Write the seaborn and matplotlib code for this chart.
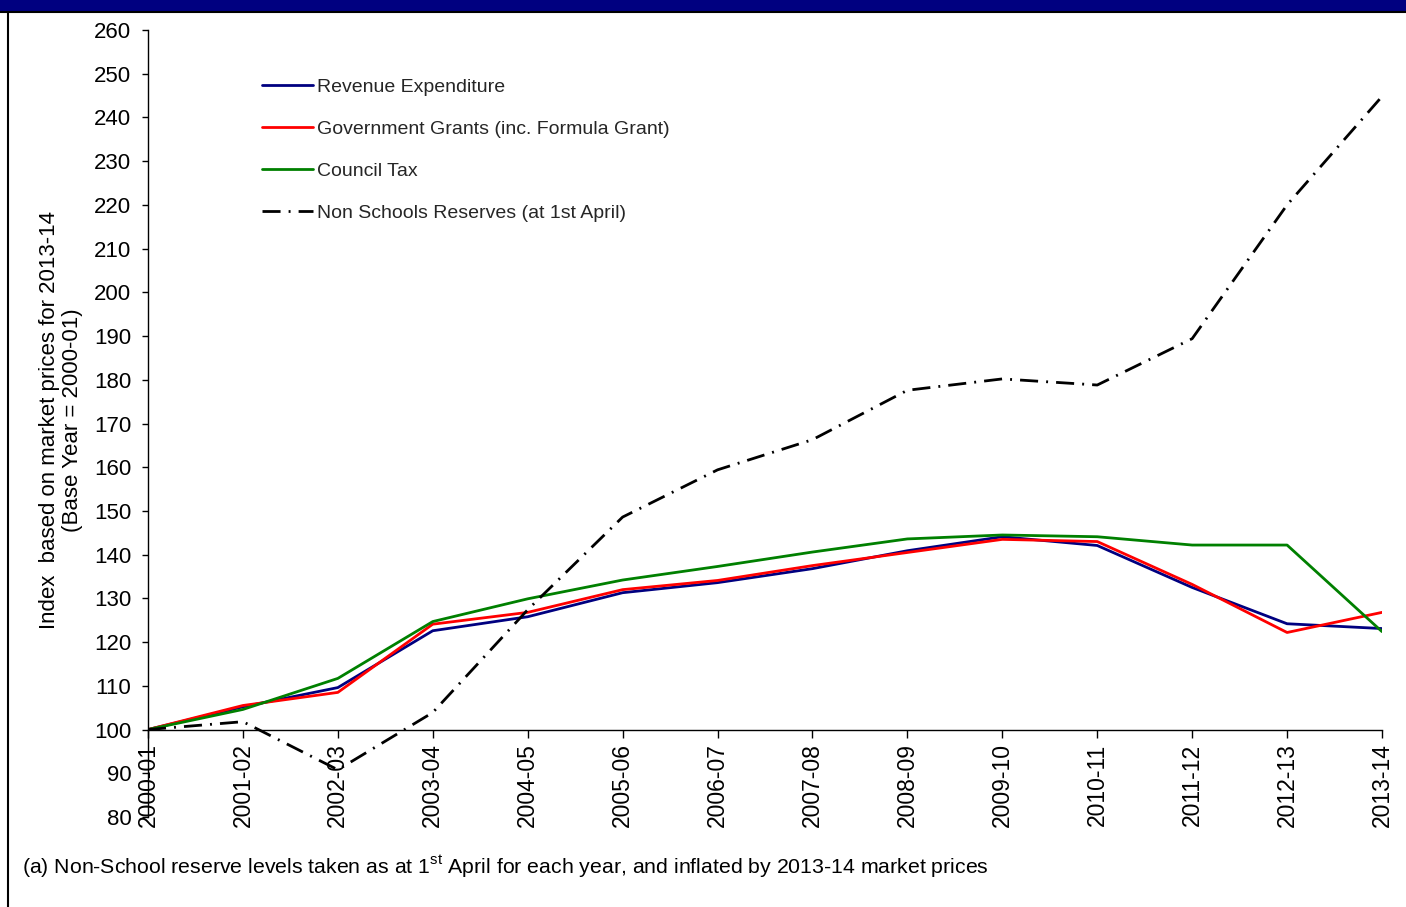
import matplotlib
matplotlib.use("Agg")
import matplotlib.pyplot as plt
from matplotlib.patches import Rectangle
from matplotlib.lines import Line2D
import seaborn as sns
import pandas as pd

years = ["2000-01", "2001-02", "2002-03", "2003-04", "2004-05", "2005-06", "2006-07",
         "2007-08", "2008-09", "2009-10", "2010-11", "2011-12", "2012-13", "2013-14"]

revenue_expenditure = [100.0, 105.2, 109.6, 122.6, 125.8, 131.3, 133.6,
                       136.8, 140.9, 144.1, 142.1, 132.5, 124.2, 123.1]
government_grants = [100.0, 105.5, 108.5, 124.1, 126.8, 132.0, 134.1,
                     137.5, 140.5, 143.5, 143.0, 133.2, 122.2, 126.8]
council_tax = [100.0, 104.6, 111.7, 124.7, 129.9, 134.2, 137.3,
               140.6, 143.6, 144.5, 144.1, 142.2, 142.2, 122.4]
non_school_reserves = [100.0, 101.8, 90.8, 103.9, 127.4, 148.6, 159.4,
                       166.3, 177.6, 180.2, 178.8, 189.4, 220.0, 244.8]

series_names = ["Revenue Expenditure",
                "Government Grants (inc. Formula Grant)",
                "Council Tax",
                "Non Schools Reserves (at 1st April)"]
series_values = [revenue_expenditure, government_grants, council_tax, non_school_reserves]
series_colors = ["#000080", "#FF0000", "#008000", "#000000"]

rows = []
for name, vals in zip(series_names, series_values):
    for i, (yr, v) in enumerate(zip(years, vals)):
        rows.append({"pos": i, "year": yr, "series": name, "index": v})
df = pd.DataFrame(rows)

sns.set_theme(style="white")
plt.rcParams["font.family"] = ["Liberation Sans", "DejaVu Sans"]
plt.rcParams["mathtext.fontset"] = "custom"
plt.rcParams["mathtext.rm"] = "Liberation Sans"

W, H = 1406, 907
fig = plt.figure(figsize=(W / 100, H / 100), dpi=100)
fig.patch.set_facecolor("white")
ax = fig.add_axes([148 / W, 1 - 817 / H, (1382 - 148) / W, (817 - 30) / H])
ax.set_facecolor("white")

dash_dot = (6.5, 2.9, 0.7, 2.9)
dashes = {series_names[0]: "", series_names[1]: "", series_names[2]: "",
          series_names[3]: dash_dot}
palette = dict(zip(series_names, series_colors))

sns.lineplot(data=df, x="pos", y="index", hue="series", style="series",
             hue_order=series_names, style_order=series_names,
             palette=palette, dashes=dashes, linewidth=2.0, sort=False,
             legend=False, ax=ax)

ax.set_xlim(0, len(years) - 1)
ax.set_ylim(80, 260)
ax.set_yticks(range(80, 261, 10))
ax.set_xticks(range(len(years)))
ax.set_xticklabels(years)
ax.set_xlabel("")
ax.set_ylabel("")

for s in ["top", "right"]:
    ax.spines[s].set_visible(False)
ax.spines["bottom"].set_position(("data", 100))
for s in ["left", "bottom"]:
    ax.spines[s].set_color("#000000")
    ax.spines[s].set_linewidth(1.0)

ax.tick_params(axis="y", direction="out", length=4, width=1, pad=8,
               labelsize=16, colors="#000000", left=True)
ax.tick_params(axis="x", direction="out", length=6, width=1, pad=4,
               labelsize=16.5, colors="#000000", bottom=True, labelrotation=90)
for lbl in ax.get_xticklabels():
    lbl.set_rotation(90)
    lbl.set_va("top")
    lbl.set_ha("center")
ax.grid(False)

# legend
handles = [Line2D([], [], color=c, lw=2.0,
                  linestyle=((0, dash_dot) if i == 3 else "-"))
           for i, c in enumerate(series_colors)]
ax.legend(handles, series_names, loc="upper left", frameon=False,
          bbox_to_anchor=(262 / W, 1 - 78 / H), bbox_transform=fig.transFigure,
          borderaxespad=0, borderpad=0, fontsize=14, handlelength=2.6,
          handletextpad=0.25, labelspacing=1.26)

# axis title
fig.text(61 / W, 1 - 420 / H,
         "Index  based on market prices for 2013-14\n(Base Year = 2000-01)",
         rotation=90, ha="center", va="center", multialignment="center",
         fontsize=16, linespacing=1.15, color="#000000")

# footnote
fig.text(22 / W, 1 - 867 / H,
         r"(a) Non-School reserve levels taken as at 1$^{\mathrm{st}}$ April for each year, "
         "and inflated by 2013-14 market prices",
         ha="left", va="center", fontsize=15.3, color="#000000")

# header band and frame
fig.patches.append(Rectangle((0, 1 - 11 / H), 1, 11 / H, transform=fig.transFigure,
                             facecolor="#000080", edgecolor="none", zorder=5))
fig.lines.append(Line2D([0, 1], [1 - 12 / H, 1 - 12 / H], transform=fig.transFigure,
                        color="#000000", lw=1.5, zorder=6))
fig.lines.append(Line2D([8 / W, 8 / W], [0, 1 - 12 / H], transform=fig.transFigure,
                        color="#000000", lw=1.5, zorder=6))

fig.savefig("out.png", dpi=100, facecolor="white")
